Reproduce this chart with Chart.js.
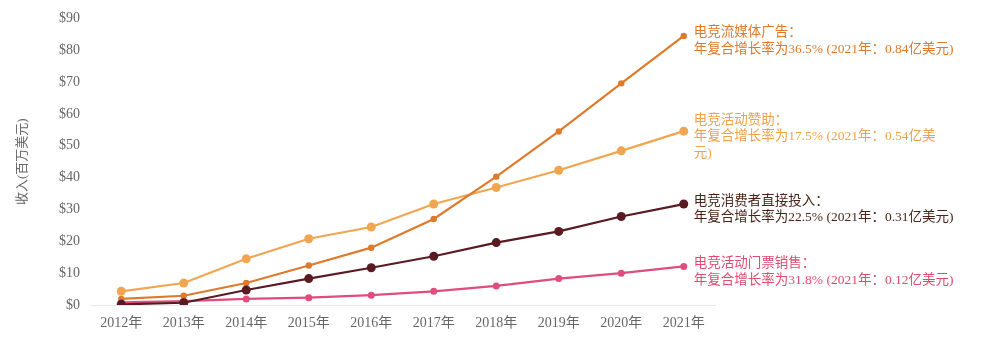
<!DOCTYPE html>
<html>
<head>
<meta charset="utf-8">
<script src="https://cdn.jsdelivr.net/npm/chart.js@4"></script>
<style>
  html, body { margin: 0; padding: 0; background: #fff; }
  #wrap { width: 1000px; height: 340px; }
</style>
</head>
<body>
<div id="wrap"><canvas id="grafico"></canvas></div>
<script>
// datos (millones de USD)
const years = ["2012年", "2013年", "2014年", "2015年", "2016年", "2017年", "2018年", "2019年", "2020年", "2021年"];
const yTicks = [0, 10, 20, 30, 40, 50, 60, 70, 80, 90];

const streamingAds = [1.9, 2.9, 6.9, 12.4, 18, 27, 40.3, 54.5, 69.6, 84.5];
const sponsorship = [4.3, 6.9, 14.5, 20.8, 24.5, 31.7, 36.9, 42.3, 48.4, 54.6];
const consumer = [0.2, 0.7, 4.7, 8.3, 11.7, 15.3, 19.6, 23.1, 27.8, 31.7];
const tickets = [0.8, 1.2, 1.9, 2.3, 3.1, 4.3, 6.0, 8.3, 10.0, 12.1];

const streamingLabel = ["电竞流媒体广告：", "年复合增长率为36.5% (2021年：0.84亿美元)"];
const sponsorshipLabel = ["电竞活动赞助：", "年复合增长率为17.5% (2021年：0.54亿美", "元)"];
const consumerLabel = ["电竞消费者直接投入：", "年复合增长率为22.5% (2021年：0.31亿美元)"];
const ticketsLabel = ["电竞活动门票销售：", "年复合增长率为31.8% (2021年：0.12亿美元)"];

const fuente = "'Liberation Serif', 'Noto Sans CJK SC', serif";

// etiquetas al final de cada linea
const etiquetasFinales = {
  id: "etiquetasFinales",
  afterDatasetsDraw(chart) {
    const ctx = chart.ctx;
    const xScale = chart.scales.x;
    const yScale = chart.scales.y;
    ctx.save();
    ctx.font = "13.5px " + fuente;
    ctx.textAlign = "left";
    ctx.textBaseline = "middle";
    chart.data.datasets.forEach((ds) => {
      const last = ds.data.length - 1;
      const px = xScale.getPixelForValue(last) + 10;
      const py = yScale.getPixelForValue(ds.data[last]);
      const lineas = ds.etiqueta;
      const inicio = py - 3 - (lineas.length - 2) * 8;
      ctx.fillStyle = ds.colorTexto;
      lineas.forEach((t, i) => {
        ctx.fillText(t, px, inicio + i * 16.5);
      });
    });
    ctx.restore();
  }
};

function serie(datos, color, colorTexto, radio, etiqueta) {
  return {
    data: datos,
    borderColor: color,
    backgroundColor: color,
    pointBackgroundColor: color,
    pointBorderColor: color,
    borderWidth: 2.2,
    pointRadius: radio,
    pointBorderWidth: 0,
    tension: 0,
    colorTexto: colorTexto,
    etiqueta: etiqueta
  };
}

new Chart(document.getElementById("grafico"), {
  type: "line",
  data: {
    labels: years,
    datasets: [
      serie(consumer, "#5a1a22", "#4a2418", 4.5, consumerLabel),
      serie(tickets, "#e04c7c", "#e04c6e", 3.5, ticketsLabel),
      serie(streamingAds, "#df7a2c", "#e0782a", 3.2, streamingLabel),
      serie(sponsorship, "#f0a650", "#f0a24a", 4.5, sponsorshipLabel)
    ]
  },
  options: {
    responsive: true,
    maintainAspectRatio: false,
    animation: false,
    layout: { padding: { left: 0, right: 285, top: 15, bottom: 0 } },
    plugins: {
      legend: { display: false },
      tooltip: { enabled: false }
    },
    scales: {
      x: {
        offset: true,
        grid: { display: false, drawTicks: false },
        border: { display: true, color: "#e8e8e8", width: 1 },
        ticks: {
          color: "#666",
          padding: 10,
          maxRotation: 0,
          autoSkip: false,
          font: { family: fuente, size: 14 }
        },
        afterFit: (scale) => { scale.height = 35; }
      },
      y: {
        min: 0,
        max: 90,
        afterBuildTicks: (scale) => {
          scale.ticks = yTicks.map((v) => ({ value: v }));
        },
        grid: { display: false, drawTicks: false },
        border: { display: false },
        ticks: {
          color: "#666",
          padding: 10,
          font: { family: fuente, size: 14 },
          callback: (v) => "$" + v
        },
        title: {
          display: true,
          text: "收入(百万美元)",
          color: "#666",
          padding: { top: 15, bottom: 0 },
          font: { family: fuente, size: 13 }
        },
        afterFit: (scale) => { scale.width = 90; }
      }
    }
  },
  plugins: [etiquetasFinales]
});
</script>
</body>
</html>
